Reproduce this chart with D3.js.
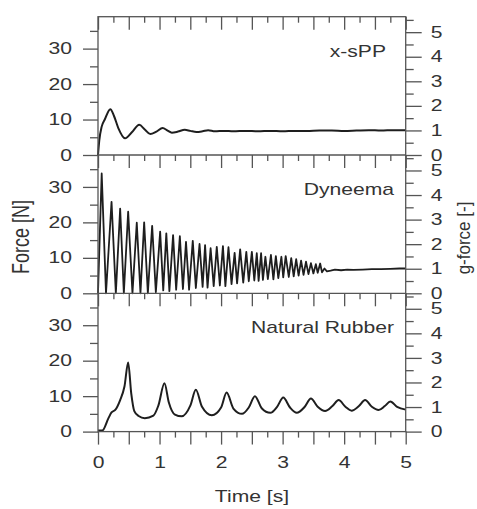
<!DOCTYPE html>
<html>
<head>
<meta charset="utf-8">
<script src="https://d3js.org/d3.v7.min.js"></script>
<style>
	body { margin: 0; background: white; }
	svg { display: block; }
	.axis path { display: none; }
	.axis line { stroke: #555; stroke-width: 1.3; }
	.axis text, .label { font-family: "Liberation Sans", Arial, sans-serif; font-size: 16px; fill: #333; }
	.curve { fill: none; stroke: #1e1e1e; stroke-linejoin: round; }
</style>
</head>
<body>
<svg width="477" height="509"></svg>
<script>
// x-sPP
var spTime  = [0, 0.02, 0.06, 0.11, 0.20, 0.26, 0.33, 0.44, 0.55, 0.67, 0.76, 0.85, 0.95, 1.05, 1.13, 1.20, 1.30, 1.41, 1.50, 1.60, 1.70, 1.79, 1.90, 2.05, 2.2, 2.4, 2.6, 2.8, 3.0, 3.2, 3.4, 3.6, 3.8, 4.0, 4.2, 4.4, 4.6, 4.8, 5.0]
var spForce = [0, 4.0, 8.0, 10.0, 12.9, 11.0, 7.6, 4.7, 6.4, 8.5, 7.2, 5.9, 6.6, 7.6, 6.9, 6.3, 6.6, 7.1, 6.8, 6.5, 6.7, 7.0, 6.7, 6.8, 6.7, 6.8, 6.7, 6.8, 6.7, 6.8, 6.8, 6.9, 6.9, 6.8, 6.9, 7.0, 6.9, 7.0, 7.0]

// Dyneema: peaks, troughs, and the settled tail
var dyPeakTime  = [0.06, 0.22, 0.36, 0.49, 0.63, 0.75, 0.88, 1.01, 1.11, 1.22, 1.33, 1.43, 1.54, 1.65, 1.74, 1.83, 1.93, 2.03, 2.12, 2.22, 2.31, 2.41, 2.50, 2.58, 2.65, 2.72, 2.81, 2.89, 2.98, 3.05, 3.14, 3.22, 3.30, 3.38, 3.46, 3.54, 3.61, 3.68]
var dyPeakForce = [33.8, 25.8, 23.9, 23.0, 19.9, 20.0, 19.0, 17.4, 16.9, 16.4, 16.1, 14.5, 14.8, 13.9, 13.6, 12.7, 13.1, 13.3, 13.0, 11.4, 12.4, 11.7, 11.7, 11.3, 11.3, 10.3, 10.8, 10.5, 10.3, 10.5, 9.9, 9.6, 9.2, 8.9, 8.5, 8.2, 8.4, 7.0]
var dyTroughTime  = [0.13, 0.29, 0.42, 0.56, 0.69, 0.81, 0.94, 1.06, 1.16, 1.27, 1.38, 1.48, 1.59, 1.70, 1.78, 1.88, 1.98, 2.07, 2.17, 2.26, 2.36, 2.45, 2.54, 2.61, 2.68, 2.76, 2.85, 2.93, 3.01, 3.10, 3.18, 3.26, 3.34, 3.42, 3.50, 3.57, 3.64]
var dyTroughForce = [0, 0, 0, 0, 0, 0, 0.3, 0.8, 0.6, 1.0, 1.2, 1.0, 1.5, 1.8, 1.6, 2.0, 2.2, 2.0, 2.6, 2.8, 3.0, 3.4, 3.6, 3.5, 3.8, 4.0, 3.9, 4.3, 4.5, 4.6, 4.8, 5.0, 5.2, 5.4, 5.6, 5.8, 5.9]
var dyTailTime  = [3.72, 3.78, 3.85, 3.95, 4.05, 4.15, 4.30, 4.45, 4.60, 4.75, 4.90, 5.0]
var dyTailForce = [6.2, 6.4, 6.7, 6.5, 6.7, 6.6, 6.7, 6.8, 6.8, 6.9, 7.0, 7.0]

// Natural Rubber
var nrTime  = [0, 0.07, 0.17, 0.22, 0.28, 0.36, 0.43, 0.49, 0.54, 0.59, 0.66, 0.76, 0.90, 0.98, 1.08, 1.15, 1.25, 1.36, 1.50, 1.59, 1.69, 1.85, 2.00, 2.09, 2.20, 2.34, 2.45, 2.55, 2.66, 2.80, 2.91, 3.01, 3.12, 3.23, 3.36, 3.46, 3.57, 3.69, 3.81, 3.91, 4.02, 4.12, 4.24, 4.34, 4.45, 4.56, 4.66, 4.75, 4.86, 5.0]
var nrForce = [0.3, 0.3, 3.8, 5.4, 6.1, 8.9, 12.7, 19.5, 10.8, 5.8, 4.4, 3.8, 4.5, 7.3, 13.6, 8.3, 4.8, 4.3, 7.3, 11.8, 7.0, 4.6, 6.8, 11.0, 6.5, 5.0, 6.8, 10.0, 6.6, 5.3, 7.0, 9.6, 6.8, 5.3, 7.0, 9.3, 7.0, 5.8, 7.2, 8.9, 7.0, 5.9, 7.2, 8.9, 7.0, 6.1, 7.2, 8.5, 7.0, 6.2]

var panelNames = ["x-sPP", "Dyneema", "Natural Rubber"]
var forceTicks = [0, 10, 20, 30]
var forceMinor = [5, 15, 25, 35]
var gTicks = [0, 1, 2, 3, 4, 5]
var gMinor = [0.5, 1.5, 2.5, 3.5, 4.5, 5.5]
var timeTicks = [0, 1, 2, 3, 4, 5]

var dyneema = [[0, 0]]
dyPeakTime.forEach((t, i) => {
	dyneema.push([t, dyPeakForce[i]])
	if(i < dyTroughTime.length) dyneema.push([dyTroughTime[i], dyTroughForce[i]])
})
dyTailTime.forEach((t, i) => dyneema.push([t, dyTailForce[i]]))

var series = [
	{ data: spTime.map((t, i) => [t, spForce[i]]), curve: d3.curveMonotoneX, width: 2 },
	{ data: dyneema, curve: d3.curveLinear, width: 1.8 },
	{ data: nrTime.map((t, i) => [t, nrForce[i]]), curve: d3.curveMonotoneX, width: 2 }
]

var stretch = 1.32
var left = 98, right = 405.7
var top0 = 16.7, panelH = 138.3
var svg = d3.select("svg")

var x = d3.scaleLinear().domain([0, 5]).range([left, right])
var xMajor = d3.range(0, 5.01, 0.5)
var xMinor = d3.range(0.25, 5, 0.5)

function stretchText(sel, dx) {
	sel.selectAll("text")
		.attr("x", dx / stretch)
		.attr("transform", "scale(" + stretch + ",1)")
}

series.forEach((s, i) => {
	var top = top0 + i * panelH
	var bottom = top + panelH
	var y = d3.scaleLinear().domain([0, 39]).range([bottom, top])
	var g = d3.scaleLinear().domain([0, 5.63]).range([bottom, top])

	svg.append("path")
		.datum(s.data)
		.attr("class", "curve")
		.attr("stroke-width", s.width)
		.attr("d", d3.line().x(d => x(d[0])).y(d => y(d[1])).curve(s.curve))

	// left
	svg.append("g").attr("class", "axis").attr("transform", "translate(" + left + ",0)")
		.call(d3.axisLeft(y).tickValues(forceTicks).tickSize(15).tickFormat(d3.format("d")))
		.call(stretchText, -26)
	svg.append("g").attr("class", "axis").attr("transform", "translate(" + left + ",0)")
		.call(d3.axisLeft(y).tickValues(forceMinor).tickSize(8).tickFormat(""))

	// right
	svg.append("g").attr("class", "axis").attr("transform", "translate(" + right + ",0)")
		.call(d3.axisRight(g).tickValues(gTicks).tickSize(16).tickFormat(d3.format("d")))
		.call(sel => sel.selectAll("text").attr("text-anchor", "start"))
		.call(stretchText, 25)
	svg.append("g").attr("class", "axis").attr("transform", "translate(" + right + ",0)")
		.call(d3.axisRight(g).tickValues(gMinor).tickSize(8).tickFormat(""))

	// ticks hanging down from the panel's top edge
	svg.append("g").attr("class", "axis").attr("transform", "translate(0," + top + ")")
		.call(d3.axisBottom(x).tickValues(xMajor).tickSize(13).tickFormat(""))
	svg.append("g").attr("class", "axis").attr("transform", "translate(0," + top + ")")
		.call(d3.axisBottom(x).tickValues(xMinor).tickSize(6).tickFormat(""))

	svg.append("text")
		.attr("class", "label")
		.attr("text-anchor", "end")
		.attr("transform", "translate(" + (i == 0 ? 386 : 394) + "," + (top + 40) + ") scale(" + stretch + ",1)")
		.text(panelNames[i])
})

// bottom axis
var bottomY = top0 + 3 * panelH
svg.append("g").attr("class", "axis").attr("transform", "translate(0," + bottomY + ")")
	.call(d3.axisBottom(x).tickValues(xMajor).tickSize(13).tickFormat(""))
svg.append("g").attr("class", "axis").attr("transform", "translate(0," + bottomY + ")")
	.call(d3.axisBottom(x).tickValues(xMinor).tickSize(6).tickFormat(""))
svg.append("g").attr("class", "axis").attr("transform", "translate(0," + bottomY + ")")
	.call(d3.axisBottom(x).tickValues(timeTicks).tickSize(0).tickFormat(d3.format("d")))
	.call(sel => sel.selectAll("text").attr("y", 36.5).attr("dy", 0))
	.call(stretchText, 0)

// frame
svg.append("rect")
	.attr("x", left).attr("y", top0)
	.attr("width", right - left).attr("height", 3 * panelH)
	.attr("fill", "none").attr("stroke", "#555").attr("stroke-width", 1.3)
;[1, 2].forEach(k => {
	svg.append("line")
		.attr("x1", left).attr("x2", right)
		.attr("y1", top0 + k * panelH).attr("y2", top0 + k * panelH)
		.attr("stroke", "#555").attr("stroke-width", 1.3)
})

svg.append("text").attr("class", "label")
	.attr("text-anchor", "middle")
	.attr("transform", "translate(252,502) scale(" + stretch + ",1)")
	.text("Time [s]")

svg.append("text").attr("class", "label")
	.attr("text-anchor", "middle").style("font-size", "18px")
	.attr("transform", "translate(29,237) scale(1.3,1) rotate(-90)")
	.text("Force [N]")

svg.append("text").attr("class", "label")
	.attr("text-anchor", "middle").style("font-size", "17px")
	.attr("transform", "translate(470,238) scale(1.1,1) rotate(-90)")
	.text("g-force [-]")
</script>
</body>
</html>
